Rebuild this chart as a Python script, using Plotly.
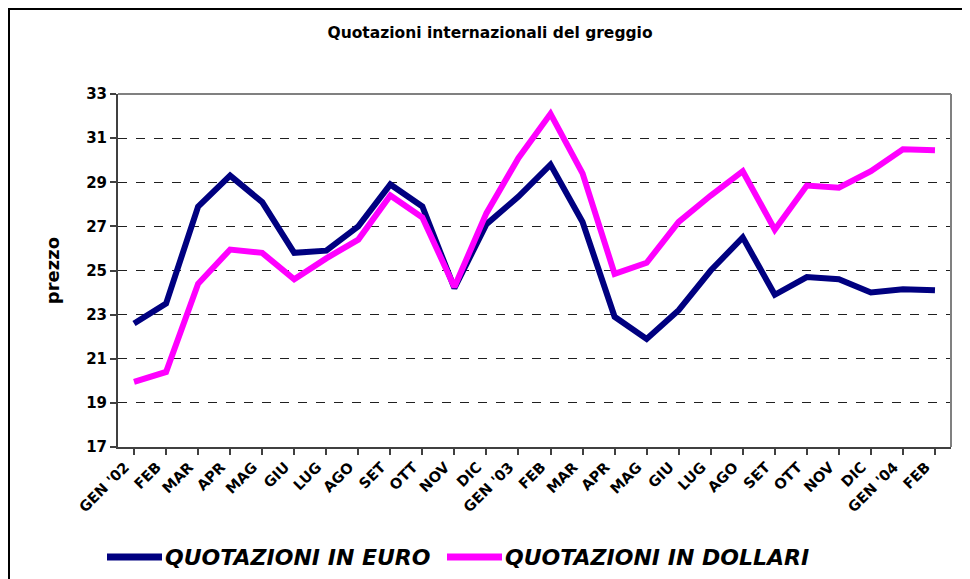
import plotly.graph_objects as go

categories = ["GEN '02", "FEB", "MAR", "APR", "MAG", "GIU", "LUG", "AGO", "SET", "OTT", "NOV", "DIC",
              "GEN '03", "FEB", "MAR", "APR", "MAG", "GIU", "LUG", "AGO", "SET", "OTT", "NOV", "DIC",
              "GEN '04", "FEB"]
euro = [22.6, 23.5, 27.9, 29.3, 28.1, 25.8, 25.9, 27.0, 28.9, 27.9, 24.2, 27.1,
        28.35, 29.8, 27.2, 22.9, 21.9, 23.2, 25.0, 26.5, 23.9, 24.7, 24.6, 24.0,
        24.15, 24.1]
dollari = [19.95, 20.4, 24.4, 25.95, 25.8, 24.6, 25.55, 26.4, 28.4, 27.4, 24.25, 27.6,
           30.1, 32.1, 29.4, 24.85, 25.35, 27.2, 28.4, 29.5, 26.85, 28.85, 28.75, 29.5,
           30.5, 30.45]
y_ticks = [17, 19, 21, 23, 25, 27, 29, 31, 33]
series_names = ["QUOTAZIONI IN EURO", "QUOTAZIONI IN DOLLARI"]
series_colors = ["#000080", "#FF00FF"]

x_idx = list(range(len(categories)))

W, H = 962, 571
L, R, T, B = 110, 943, 86, 439   # plot area in figure pixels
PW, PH = R - L, B - T


def px_x(px):
    return (px - L) / PW


def px_y(py):
    return (B - py) / PH


fig = go.Figure()
for name, vals, col in zip(series_names, [euro, dollari], series_colors):
    fig.add_trace(go.Scatter(x=x_idx, y=vals, mode="lines", name=name,
                             line=dict(color=col, width=6), showlegend=False))

# custom legend (thick line + bold italic label)
legend_line_x = [(99, 154), (439, 494)]
legend_y = 549
shapes = []
annotations = []
for (x0, x1), name, col in zip(legend_line_x, series_names, series_colors):
    shapes.append(dict(type="line", xref="paper", yref="paper",
                       x0=px_x(x0), x1=px_x(x1), y0=px_y(legend_y), y1=px_y(legend_y),
                       line=dict(color=col, width=7)))
    annotations.append(dict(text=name, xref="paper", yref="paper", x=px_x(x1 + 1), y=px_y(legend_y),
                            xanchor="left", yanchor="middle", showarrow=False,
                            font=dict(size=22, style="italic", weight="bold", color="black")))

shapes += [
    dict(type="line", xref="paper", yref="paper", x0=0, x1=1, y0=1, y1=1,
         line=dict(color="#808080", width=2)),
    dict(type="line", xref="paper", yref="paper", x0=1, x1=1, y0=0, y1=1,
         line=dict(color="#808080", width=2)),
    dict(type="rect", xref="paper", yref="paper",
         x0=px_x(1), x1=px_x(959), y0=px_y(600), y1=px_y(1),
         line=dict(color="black", width=2), layer="below"),
]

fig.update_layout(
    width=W, height=H,
    margin=dict(l=L, r=W - R, t=T, b=H - B, autoexpand=False),
    paper_bgcolor="white", plot_bgcolor="white",
    font=dict(family="DejaVu Sans", color="black"),
    title=dict(text="<b>Quotazioni internazionali del greggio</b>", x=px_x(482), xref="paper",
               xanchor="center", y=1 - 25 / H, yanchor="middle", font=dict(size=15.5)),
    showlegend=False,
    xaxis=dict(
        range=[-0.5, len(categories) - 0.5], automargin=False,
        tickmode="array", tickvals=x_idx, ticktext=categories,
        tickangle=-45, tickfont=dict(size=14.5, weight="bold"),
        ticklabelshift=-9, ticklabelstandoff=-2,
        ticks="outside", ticklen=6, tickcolor="#404040", tickwidth=1.5, tickson="boundaries",
        showline=True, linecolor="#404040", linewidth=2,
        showgrid=False, zeroline=False, mirror=False,
    ),
    yaxis=dict(
        range=[17, 33], tickmode="array", tickvals=y_ticks, automargin=False,
        tickfont=dict(size=15, weight="bold"),
        ticks="outside", ticklen=6, tickcolor="#404040", tickwidth=1.5,
        showline=True, linecolor="#404040", linewidth=2,
        showgrid=True, gridcolor="#202020", griddash="dash", gridwidth=1,
        zeroline=False,
        title=dict(text="<b>prezzo</b>", font=dict(size=18), standoff=22),
    ),
    shapes=shapes,
    annotations=annotations,
)

fig.write_html("out.html")
